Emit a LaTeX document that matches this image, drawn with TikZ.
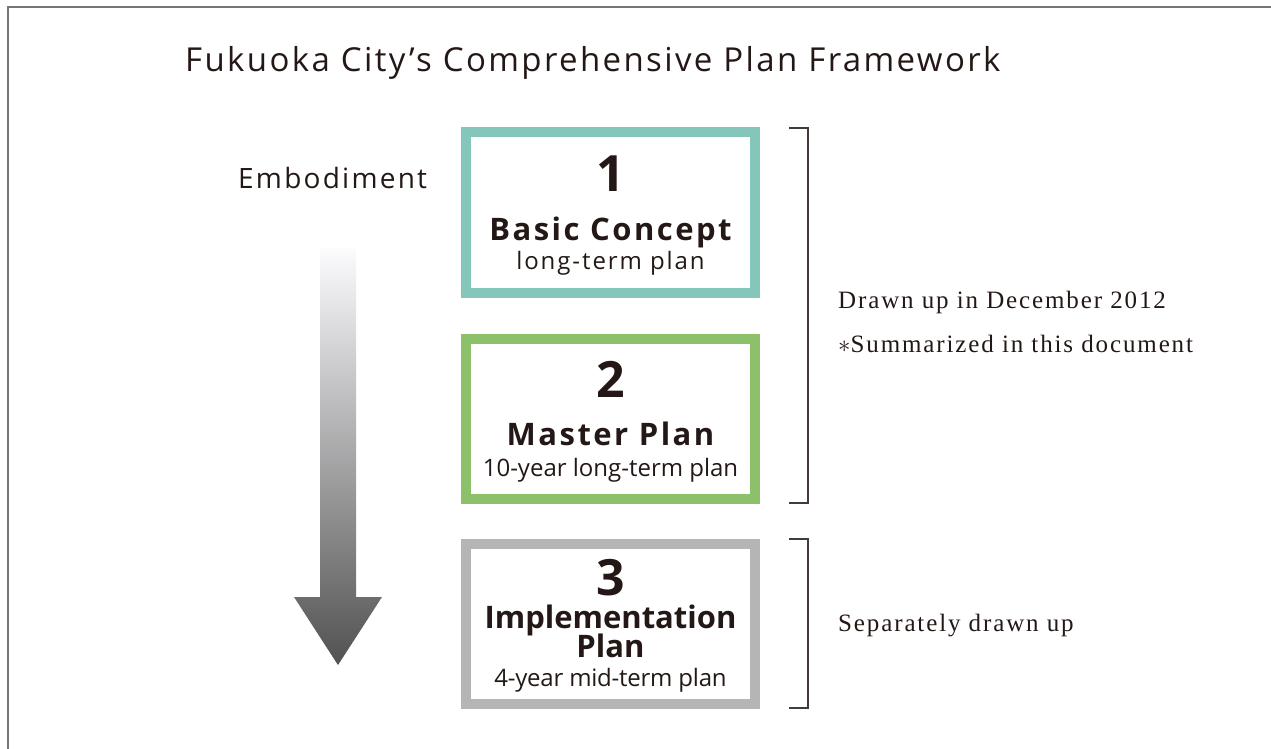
\documentclass[tikz,border=0pt]{standalone}
\usepackage{fontspec}
\setmainfont{Liberation Serif}
\setsansfont{Open Sans}
\usepackage{xcolor}
\usetikzlibrary{positioning}

\definecolor{inkblack}{HTML}{231815}
\definecolor{framegray}{HTML}{7A7575}
\definecolor{tealline}{HTML}{84C6B9}
\definecolor{greenline}{HTML}{8CC06A}
\definecolor{grayline}{HTML}{B5B5B5}

\begin{document}
\begin{tikzpicture}[x=1pt, y=-1pt, text=inkblack]
    \tikzset{planbox/.style={draw, line width=10pt, rectangle,
      minimum width=289pt, minimum height=160pt, inner sep=0pt}}
    \tikzset{numtxt/.style={anchor=base, inner sep=0pt,
      font=\sffamily\bfseries\fontsize{50}{50}\selectfont}}
    \tikzset{titletxt/.style={anchor=base, inner sep=0pt,
      font=\sffamily\bfseries\fontsize{31}{31}\selectfont\addfontfeatures{LetterSpace=#1}},
      titletxt/.default=0}
    \tikzset{subtxt/.style={anchor=base, inner sep=0pt,
      font=\sffamily\fontsize{24}{24}\selectfont\addfontfeatures{LetterSpace=#1}},
      subtxt/.default=0}
    \tikzset{notetxt/.style={anchor=base west, inner sep=0pt,
      font=\rmfamily\fontsize{25}{25}\selectfont\addfontfeatures{LetterSpace=7.5}}}
    \tikzset{bracket/.style={draw=inkblack!85, line width=1.4pt}}

    \useasboundingbox (0, 0) rectangle (1271, 749);

    % Frame
    \draw [framegray, line width=1.6pt] (8, 749) -- (8, 7) -- (1271, 7);

    % Title
    \node [anchor=base west, inner sep=0pt,
           font=\sffamily\fontsize{33}{33}\selectfont\addfontfeatures{LetterSpace=7.2}]
          (title) at (185, 72) {Fukuoka City’s Comprehensive Plan Framework};

    \node [anchor=base west, inner sep=0pt,
           font=\sffamily\fontsize{28}{28}\selectfont\addfontfeatures{LetterSpace=8}]
          (embody) at (238, 188) {Embodiment};

    % Gradient arrow
    \shade [top color=white!96!blue!30, bottom color=black!68]
          (320, 248) -- (356, 248) -- (356, 597) -- (382, 597)
          -- (338, 665) -- (294, 597) -- (320, 597) -- cycle;

    % Plan boxes
    \node [planbox, draw=tealline]  (basic)  at (610.5, 212.5) {};
    \node [planbox, draw=greenline] (master) at (610.5, 418.5) {};
    \node [planbox, draw=grayline]  (impl)   at (610.5, 624)   {};

    \node [numtxt]      (n1) at (610.5, 191) {1};
    \node [titletxt=8]  (t1) at (610.5, 240) {Basic Concept};
    \node [subtxt=8]    (s1) at (610.5, 269) {long-term plan};

    \node [numtxt]      (n2) at (610.5, 397) {2};
    \node [titletxt=8]  (t2) at (610.5, 445) {Master Plan};
    \node [subtxt]      (s2) at (610.5, 476) {10-year long-term plan};

    \node [numtxt]      (n3) at (610.5, 595) {3};
    \node [titletxt]    (t3) at (610.5, 628) {Implementation};
    \node [titletxt]    (t3b) at (610.5, 657) {Plan};
    \node [subtxt=-1]   (s3) at (610.5, 686) {4-year mid-term plan};

    % Brackets
    \path (789, 128) coordinate (b1top) (789, 503) coordinate (b1bot);
    \path (789, 539) coordinate (b2top) (789, 708) coordinate (b2bot);
    \draw [bracket] (b1top) -| (808, 503) -- (b1bot);
    \draw [bracket] (b2top) -| (808, 708) -- (b2bot);

    % Notes
    \node [notetxt] (drawn) at (838, 308) {Drawn up in December 2012};
    \node [notetxt] (summ)  at (838, 352) {$\ast$Summarized in this document};
    \node [notetxt] (sep)   at (838, 631) {Separately drawn up};
  \end{tikzpicture}
\end{document}
